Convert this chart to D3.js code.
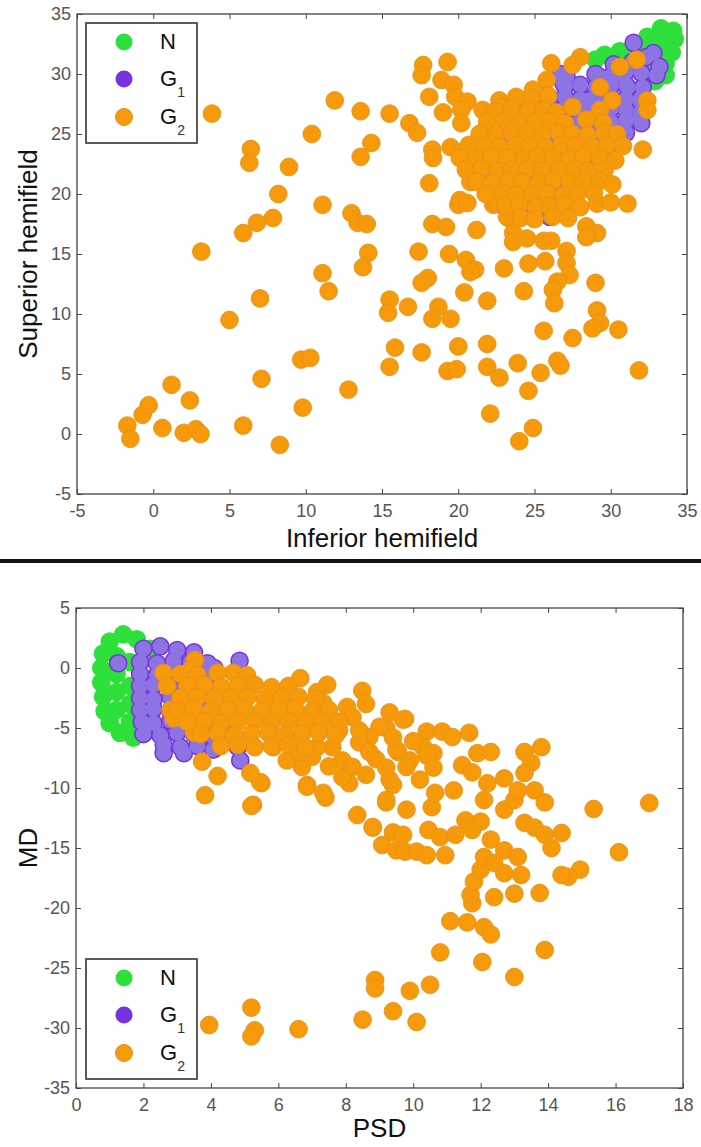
<!DOCTYPE html>
<html>
<head>
<meta charset="utf-8">
<script src="https://cdn.jsdelivr.net/npm/d3@7"></script>
<style>
  body { margin: 0; background: #fff; }
  svg { display: block; font-family: "Liberation Sans", Arial, sans-serif; }
</style>
</head>
<body>
<svg id="chart"></svg>
<script>
// ---- tick labels ----
const hemiTicks = [-5, 0, 5, 10, 15, 20, 25, 30, 35];
const psdTicks = [0, 2, 4, 6, 8, 10, 12, 14, 16, 18];
const mdTicks = [-35, -30, -25, -20, -15, -10, -5, 0, 5];

const groups = ["N", "G1", "G2"];

// ---- top panel: inferior vs superior hemifield ----
const hemiN = [[33.3,33.8],[34.1,33.6],[32.4,33.1],[33.3,33.0],[34.2,32.9],[31.6,32.4],[32.5,32.2],[33.5,32.1],[34.0,31.8],
  [30.6,31.9],[31.5,31.5],[32.8,31.0],[33.6,30.9],[29.6,31.6],[29.0,31.2],[32.6,30.1],[33.3,30.2],[32.9,29.4],[33.6,29.9]];

const hemiG1 = [[31.5,32.6],[32.8,31.75],[33.2,30.6],[31.9,27.8],[31.9,26.4],[31.1,28.9],[30.6,29.9],[29.3,29.75],[28.6,27.8],
  [26.9,27.0],[27.1,29.75],[26.7,30.0],[26.9,29.2],[24.5,25.6],[20.9,22.2],[22.1,20.2],[23.6,19.7],[26.0,18.1],[22.9,27.0],
  [29.1,23.7],[25.4,28.3],[23.9,19.3],[26.0,18.25],
  [32.3,31.4],[31.4,31.0],[30.2,30.8],
  [29.0,30.0],[30.0,29.8],[31.0,30.2],[32.0,30.1],[33.0,29.9],
  [27.0,29.0],[28.0,29.1],[29.0,28.9],[30.0,29.0],[31.0,29.1],[32.1,28.9],
  [26.0,28.0],[27.0,28.1],[28.0,27.9],[29.0,28.0],[30.0,28.1],[31.0,27.9],[32.0,28.0],
  [25.0,27.0],[26.0,26.9],[27.0,27.1],[28.0,27.0],[29.0,26.9],[30.0,27.1],[31.0,27.0],[32.0,26.9],
  [24.0,26.0],[25.1,26.1],[26.0,25.9],[27.0,26.0],[28.0,26.1],[29.0,25.9],[30.0,26.0],[31.0,26.1],[32.0,25.9],
  [23.0,25.0],[24.0,24.9],[25.0,25.1],[26.0,25.0],[27.0,24.9],[28.0,25.1],[29.0,25.0],[30.0,24.9],[31.0,25.1],
  [22.0,24.0],[23.0,24.1],[24.0,23.9],[25.0,24.0],[26.0,24.1],[27.0,23.9],[28.0,24.0],[29.0,24.1],[30.0,23.9],
  [21.5,23.0],[22.5,22.9],[23.5,23.1],[24.5,23.0],[25.5,22.9],[26.5,23.1],[27.5,23.0],[28.5,22.9],
  [21.0,22.0],[22.0,22.1],[23.0,21.9],[24.0,22.0],[25.0,22.1],[26.0,21.9],[27.0,22.0],
  [21.5,21.0],[22.5,21.1],[23.5,20.9],[24.5,21.0],[25.5,21.1],[26.5,20.9],
  [22.0,20.0],[23.0,20.1],[24.0,19.9],[25.0,20.0],[26.0,20.1],
  [23.0,19.0],[24.5,19.1],[26.0,18.9]];

const hemiG2 = [
  [-1.7,0.7],[-1.5,-0.4],[-0.7,1.6],[-0.3,2.4],[0.6,0.5],[1.2,4.1],[2.0,0.1],[2.4,2.8],[2.8,0.4],[3.1,0.0],[5.9,0.7],
  [8.3,-0.9],[9.8,2.2],[7.1,4.6],[12.8,3.7],[9.7,6.2],[10.3,6.35],[5.0,9.5],[7.0,11.3],[3.15,15.2],[3.85,26.7],
  [11.9,27.8],[13.6,26.9],[15.5,26.7],[10.4,25.0],[14.3,24.25],[13.6,23.1],[6.4,23.75],[6.3,22.6],[8.9,22.25],[8.2,20.0],
  [11.1,19.1],[13.0,18.4],[13.4,17.6],[14.0,17.5],[7.85,18.0],[6.8,17.6],[5.9,16.75],[14.1,15.1],[13.75,13.9],[11.1,13.4],
  [11.5,11.9],[15.5,11.2],[15.4,10.1],
  [18.3,17.5],[19.2,17.25],[21.2,17.0],[17.4,15.2],[19.4,15.0],[20.5,14.5],[21.1,13.7],[20.8,13.5],[23.0,13.8],[24.6,14.2],
  [25.7,14.4],[27.1,15.25],[27.1,14.25],[27.3,13.25],[26.5,12.7],[26.2,12.0],[26.3,10.9],[24.3,11.9],[29.0,12.6],[28.4,17.3],
  [29.1,16.75],[28.4,16.4],[18.0,13.0],[17.6,12.6],[20.4,11.8],[21.9,11.1],[16.7,10.6],[18.7,10.6],[18.3,9.6],[19.5,9.6],
  [25.6,8.6],[27.5,8.0],[29.1,10.3],[29.3,9.25],[28.8,8.8],[30.5,8.7],[15.85,7.2],[17.6,6.8],[20.0,7.3],[21.9,7.5],[15.5,5.6],
  [19.3,5.25],[19.9,5.4],[21.9,5.6],[22.7,4.7],[23.9,5.9],[25.4,5.1],[26.5,6.1],[26.7,5.7],[24.6,3.6],[31.85,5.3],[22.1,1.7],
  [24.9,0.5],[24.0,-0.6],
  [20.0,19.1],[22.3,19.1],[27.1,19.25],[29.1,19.2],[31.1,19.2],[30.0,19.3],[23.3,18.0],[23.6,16.75],[23.6,16.0],[24.5,16.3],
  [25.6,16.1],[26.1,16.1],
  [17.7,30.75],[17.6,29.9],[19.3,31.0],[18.9,29.5],[19.7,29.1],[18.1,28.1],[19.8,28.1],[20.6,27.7],[20.2,27.0],[19.0,26.8],
  [21.6,27.0],[22.7,27.8],[22.9,27.25],[20.2,25.9],[16.8,25.9],[17.3,25.1],[21.6,25.1],[18.3,23.7],[18.35,23.0],[19.5,23.9],
  [20.2,23.5],[18.1,20.9],[20.1,19.5],[20.6,19.25],[20.8,21.0],[22.1,20.3],[22.5,19.25],[23.2,18.1],[32.1,23.7],[32.4,27.8],
  [32.4,27.0],[31.7,31.2],[30.6,30.6],[28.0,31.4],[26.1,30.9],[27.5,30.75],[24.9,28.7],[25.8,29.5],[27.5,27.25],[29.3,28.9],
  [30.1,27.8],[29.3,27.0],[24.5,27.8],[23.6,27.0],
  // dense core
  [23.8,28.1],[24.8,28.0],[25.9,28.2],
  [22.4,26.9],[23.5,27.1],[24.6,26.9],[25.6,27.0],[26.4,26.8],
  [21.9,26.0],[23.0,26.1],[24.0,25.9],[25.1,26.0],[26.0,26.1],[27.0,25.9],[28.4,26.2],[29.5,25.9],
  [21.4,25.0],[22.5,24.9],[23.5,25.1],[24.5,25.0],[25.5,24.9],[26.6,25.1],[27.5,25.0],[28.5,24.9],[29.6,25.1],[30.4,25.0],
  [20.7,24.1],[21.7,24.0],[22.7,23.9],[23.8,24.1],[24.7,24.0],[25.7,23.9],[26.8,24.1],[27.7,24.0],[28.8,23.9],[29.8,24.1],[30.8,24.0],
  [20.1,23.0],[21.2,22.9],[22.2,23.1],[23.2,23.0],[24.3,22.9],[25.2,23.1],[26.2,23.0],[27.3,22.9],[28.2,23.1],[29.3,23.0],[30.3,22.8],
  [20.5,22.0],[21.5,22.1],[22.6,21.9],[23.5,22.0],[24.6,22.1],[25.5,21.9],[26.6,22.0],[27.6,22.1],[28.5,21.9],[29.6,22.0],
  [21.2,21.0],[22.2,20.9],[23.3,21.1],[24.2,21.0],[25.3,20.9],[26.2,21.1],[27.3,21.0],[28.2,20.9],[29.3,21.1],[30.1,20.8],
  [21.8,20.0],[22.9,20.1],[23.8,19.9],[24.9,20.0],[25.8,20.1],[26.9,19.9],[27.8,20.0],[28.9,20.1],
  [23.1,19.0],[24.0,19.1],[25.1,18.9],[26.0,19.0],[27.0,19.1],[28.0,18.9],
  [24.1,18.0],[25.0,17.9],[26.2,18.1],[27.2,18.0]];

// ---- bottom panel: PSD vs MD ----
const psdN = [[1.0,2.2],[1.4,2.8],[1.8,2.4],[2.2,1.6],[0.8,1.2],[0.75,0.0],[0.75,-1.2],[0.8,-2.4],[0.85,-3.6],[1.0,-4.6],
  [1.3,-5.4],[1.7,-5.8],[1.2,1.0],[1.2,-0.5],[1.2,-2.0],[1.2,-3.5],[1.6,0.5],[1.6,-1.5],[1.6,-3.0],[1.6,-4.5],[2.0,-5.5]];

const psdG1 = [[1.25,0.4],[2.0,1.6],[2.5,1.8],[3.0,1.5],[3.5,1.3],[4.85,0.6],[4.1,0.0],
  [1.9,0.5],[2.4,0.4],[2.9,0.6],[3.4,0.5],[3.9,0.4],
  [1.9,-0.5],[2.4,-0.6],[2.9,-0.4],[3.4,-0.5],[3.9,-0.6],
  [1.9,-1.5],[2.3,-1.4],[2.8,-1.6],[3.3,-1.5],[3.8,-1.4],[4.3,-1.6],
  [1.9,-2.5],[2.3,-2.6],[2.8,-2.4],[3.3,-2.5],[3.8,-2.6],[4.3,-2.4],
  [1.9,-3.5],[2.3,-3.4],[2.8,-3.6],[3.3,-3.5],[3.8,-3.4],[4.4,-3.6],
  [1.95,-4.5],[2.3,-4.6],[2.8,-4.4],[3.3,-4.5],[3.8,-4.6],[4.4,-4.4],
  [2.0,-5.5],[2.5,-5.6],[3.0,-5.4],[3.5,-5.5],[4.0,-5.6],[4.6,-5.4],
  [2.6,-6.4],[3.1,-6.6],[3.6,-6.5],[4.2,-6.4],[4.8,-6.6],
  [2.6,-7.1],[3.2,-7.1],[4.07,-6.8],[4.87,-7.7]];

const psdG2 = [
  [3.95,-29.75],[5.2,-28.3],[5.3,-30.2],[5.2,-30.7],[6.6,-30.1],[8.5,-29.3],[8.87,-26.0],[8.87,-26.7],[9.9,-26.9],[10.5,-26.4],
  [9.4,-28.6],[10.1,-29.5],[13.0,-25.75],[12.05,-24.5],[10.8,-23.7],[13.9,-23.5],[11.1,-21.1],[11.6,-21.2],[12.1,-21.6],[12.3,-22.2],
  [15.35,-11.75],[17.0,-11.25],[16.1,-15.35],[14.95,-16.8],[14.6,-17.4],[14.4,-17.25],[13.75,-18.75],[13.0,-18.8],[12.4,-19.1],
  [11.75,-19.6],[11.7,-18.9],[11.8,-17.8],[12.0,-16.8],
  [8.34,-12.25],[8.8,-13.3],[9.08,-14.75],[9.4,-13.7],[9.7,-13.9],[9.5,-15.2],[9.76,-15.3],[10.1,-15.3],[10.4,-15.6],[10.95,-15.6],
  [10.45,-13.5],[10.8,-14.1],[11.25,-13.9],[11.55,-12.7],[12.0,-12.8],[11.75,-13.5],[13.3,-12.9],[13.6,-13.3],[13.9,-13.9],
  [14.4,-13.75],[14.1,-15.0],[12.3,-14.3],[12.1,-15.75],[12.7,-15.2],[13.1,-15.75],[13.2,-17.25],[12.7,-17.1],[12.4,-16.25],
  [5.5,-9.6],[5.25,-11.4],[6.85,-9.75],[7.4,-10.8],[8.1,-9.6],[9.4,-9.75],[9.2,-11.2],[9.8,-11.8],[10.55,-11.6],[10.65,-10.4],
  [11.2,-10.2],[12.1,-11.0],[12.7,-11.8],[13.0,-11.0],[13.6,-10.2],[13.9,-11.2],
  [9.76,-4.25],[9.2,-5.0],[10.4,-5.3],[10.86,-5.3],[11.16,-5.75],[11.66,-5.4],[9.55,-7.0],[10.3,-6.6],[10.6,-7.1],[9.9,-7.7],
  [10.4,-7.3],[10.6,-8.3],[10.2,-9.3],[11.45,-8.1],[11.75,-8.7],[11.9,-7.1],[12.3,-7.0],[12.2,-9.6],[12.7,-9.2],[13.3,-7.0],
  [13.8,-6.6],[13.5,-7.9],[13.3,-8.75],[13.1,-10.2],
  [2.6,-0.4],[2.7,-1.5],[3.53,0.67],[3.38,-0.2],[4.66,-0.4],[5.07,-0.6],[6.65,-0.85],[7.45,-1.4],[7.15,-2.0],[7.33,-2.9],
  [8.49,-1.9],[8.04,-3.25],[8.2,-4.1],[9.7,-4.3],[9.0,-4.9],[8.7,-5.75],[9.5,-6.8],[9.8,-8.25],[9.3,-9.3],[9.2,-11.0],
  [8.8,-13.25],[3.74,-7.8],[4.2,-9.0],[3.83,-10.6],[5.2,-11.5],[5.46,-9.5],[5.17,-8.75],[6.85,-9.9],[7.33,-10.4],[7.9,-9.1],
  [6.7,-8.25],[6.25,-7.7],[7.6,-6.6],[7.9,-7.7],[8.2,-8.25],[7.15,-6.6],[5.85,-6.6],[2.8,-3.5],[2.9,-4.2],[3.5,-5.4],
  [6.2,-3.0],[6.8,-5.0],[7.8,-5.2],[8.4,-6.2],[8.9,-7.6],[7.0,-7.4],
  [8.6,-3.0],[9.3,-3.7],[8.4,-5.2],[9.4,-5.8],[10.0,-6.1],[8.7,-7.0],[9.2,-8.3],[7.5,-8.2],[8.6,-8.9],[6.6,-7.0],
  // dense core
  [3.1,-0.5],[3.6,-0.6],[4.2,-0.4],
  [3.3,-1.5],[3.8,-1.4],[4.3,-1.6],[4.8,-1.5],[5.3,-1.4],[5.8,-1.6],[6.3,-1.5],
  [3.1,-2.5],[3.6,-2.4],[4.1,-2.6],[4.6,-2.5],[5.1,-2.4],[5.6,-2.6],[6.1,-2.5],[6.6,-2.4],[7.1,-2.6],
  [3.0,-3.5],[3.5,-3.4],[4.0,-3.6],[4.5,-3.5],[5.0,-3.4],[5.5,-3.6],[6.0,-3.5],[6.5,-3.4],[7.0,-3.6],[7.5,-3.5],
  [3.3,-4.5],[3.8,-4.4],[4.3,-4.6],[4.8,-4.5],[5.3,-4.4],[5.8,-4.6],[6.3,-4.5],[6.8,-4.4],[7.3,-4.6],[7.8,-4.5],
  [3.7,-5.5],[4.2,-5.4],[4.7,-5.6],[5.2,-5.5],[5.7,-5.4],[6.2,-5.6],[6.7,-5.5],[7.2,-5.4],[7.7,-5.6],
  [4.3,-6.5],[4.8,-6.4],[5.3,-6.6],[5.8,-6.5],[6.3,-6.4],[6.8,-6.6]];

const green = "#2ee03a", purpleDark = "#7633de", purpleLight = "#8c74e2",
      orange = "#f69a0a", orangeEdge = "#e2901a";
const R = 9.3;

const svg = d3.select("#chart").attr("width", 701).attr("height", 1147);
svg.append("rect").attr("width", 701).attr("height", 1147).attr("fill", "#fff");

function drawPanel(p) {
  const x = d3.scaleLinear().domain(p.xDomain).range([p.left, p.right]);
  const y = d3.scaleLinear().domain(p.yDomain).range([p.bottom, p.top]);
  const g = svg.append("g");

  const dots = (data, cls, r, fill, stroke) => g.append("g").selectAll("circle." + cls)
      .data(data)
    .join("circle")
      .attr("class", cls)
      .attr("cx", d => x(d[0]))
      .attr("cy", d => y(d[1]))
      .attr("r", r)
      .attr("fill", fill)
      .attr("stroke", stroke || "none")
      .attr("stroke-width", stroke ? 0.8 : 0);

  dots(p.n, "n", R, green);
  // purple: dark rim pass, then a lighter face pass on top
  dots(p.g1, "g1o", R, purpleDark);
  dots(p.g1, "g1i", 7.8, purpleLight);
  dots(p.g2, "g2", R - 0.4, orange, orangeEdge);

  const fmt = d => String(d);
  const axisG = (axis, tx, ty) => {
    const a = g.append("g").attr("transform", `translate(${tx},${ty})`)
        .style("color", "#444")
        .style("font-size", "18px")
        .style("font-family", "'Liberation Sans', Arial, sans-serif")
        .call(axis);
    a.select(".domain").remove();
    a.selectAll("text").attr("fill", "#555");
    return a;
  };
  axisG(d3.axisBottom(x).tickValues(p.xTicks).tickFormat(fmt).tickSizeInner(-5).tickSizeOuter(0).tickPadding(10), 0, p.bottom);
  axisG(d3.axisTop(x).tickValues(p.xTicks).tickFormat("").tickSizeInner(-5).tickSizeOuter(0), 0, p.top);
  axisG(d3.axisLeft(y).tickValues(p.yTicks).tickFormat(fmt).tickSizeInner(-5).tickSizeOuter(0).tickPadding(6), p.left, 0);
  axisG(d3.axisRight(y).tickValues(p.yTicks).tickFormat("").tickSizeInner(-5).tickSizeOuter(0), p.right, 0);

  g.append("rect")
      .attr("x", p.left).attr("y", p.top)
      .attr("width", p.right - p.left).attr("height", p.bottom - p.top)
      .attr("fill", "none").attr("stroke", "#444").attr("stroke-width", 1.3);

  g.append("text")
      .attr("x", (p.left + p.right) / 2).attr("y", p.xLabelY)
      .attr("text-anchor", "middle").attr("font-size", 26).attr("fill", "#111")
      .text(p.xLabel);
  g.append("text")
      .attr("transform", `translate(37,${(p.top + p.bottom) / 2}) rotate(-90)`)
      .attr("text-anchor", "middle").attr("font-size", 26).attr("fill", "#111")
      .text(p.yLabel);

  // legend
  const lg = g.append("g").attr("transform", `translate(${p.legend[0]},${p.legend[1]})`);
  lg.append("rect").attr("width", 111).attr("height", 120)
      .attr("fill", "#fff").attr("stroke", "#333").attr("stroke-width", 1.6);
  const rowY = [19, 56, 94];
  const colors = [green, purpleDark, orange];
  groups.forEach((name, i) => {
    lg.append("circle").attr("cx", 38).attr("cy", rowY[i]).attr("r", 8.5)
        .attr("fill", colors[i])
        .attr("stroke", i === 2 ? orangeEdge : "none");
    const t = lg.append("text").attr("x", 74).attr("y", rowY[i] + 7)
        .attr("font-size", 22).attr("fill", "#111");
    t.append("tspan").text(name[0]);
    if (name.length > 1) {
      t.append("tspan").attr("dy", 11).attr("font-size", 14).attr("fill", "#333").text(name.slice(1));
    }
  });
}

drawPanel({
  left: 77, right: 687, top: 14, bottom: 494,
  xDomain: [-5, 35], yDomain: [-5, 35],
  xTicks: hemiTicks, yTicks: hemiTicks,
  n: hemiN, g1: hemiG1, g2: hemiG2,
  xLabel: "Inferior hemifield", yLabel: "Superior hemifield",
  xLabelY: 547, legend: [86, 23]
});

// separator between the two figures
svg.append("rect").attr("x", 0).attr("y", 559).attr("width", 701).attr("height", 4).attr("fill", "#111");

drawPanel({
  left: 76, right: 683, top: 608, bottom: 1088,
  xDomain: [0, 18], yDomain: [-35, 5],
  xTicks: psdTicks, yTicks: mdTicks,
  n: psdN, g1: psdG1, g2: psdG2,
  xLabel: "PSD", yLabel: "MD",
  xLabelY: 1137, legend: [86, 959]
});
</script>
</body>
</html>
